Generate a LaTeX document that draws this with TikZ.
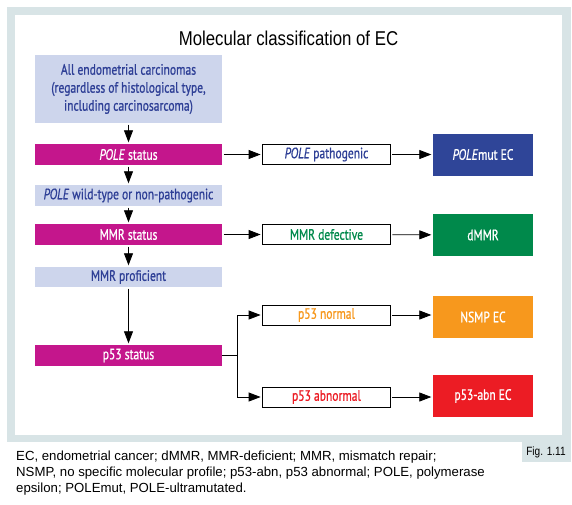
\documentclass[tikz,border=0pt]{standalone}
\usepackage{fontspec}
\setmainfont[FakeStretch=0.84]{Liberation Sans}
\newfontfamily\legendfont{Liberation Sans}
\newfontfamily\boxfont[FakeStretch=0.77, FakeBold=0.8]{PT Sans}
\usetikzlibrary{arrows.meta}

\definecolor{rahmen}{HTML}{D8E4E6}
\definecolor{lila}{HTML}{CDD5EC}
\definecolor{dunkelblau}{HTML}{2E3F96}
\definecolor{magentabox}{HTML}{C4168C}
\definecolor{blaubox}{HTML}{2F4598}
\definecolor{gruenbox}{HTML}{00894B}
\definecolor{orangebox}{HTML}{F7981D}
\definecolor{rotbox}{HTML}{EC1C24}

\tikzset{
	box/.style={inner sep=0pt, minimum height=21pt,
		font=\boxfont\fontsize{15}{18}\selectfont},
	links/.style={box, minimum width=187pt, fill=lila, text=dunkelblau},
	status/.style={box, minimum width=187pt, fill=magentabox, text=white},
	mitte/.style={box, draw=black, line width=0.8pt, minimum width=128pt,
		minimum height=20pt, fill=white},
	ende/.style={box, minimum width=100pt, minimum height=42pt, text=white},
	pfeil/.style={-{Triangle[length=12pt,width=9pt]}, line width=0.8pt,
		shorten <=1.5pt, shorten >=1.5pt}
}

\begin{document}
\begin{tikzpicture}[x=1pt, y=-1pt]
	% Hintergrund und Rahmen
	\fill[white] (0, 0) rectangle (572, 504);
	\useasboundingbox (0, 0) rectangle (572, 504);
	\fill[rahmen] (7, 7) rectangle (571, 442);
	\fill[white] (15, 15) rectangle (562, 435);
	\fill[rahmen] (522, 442) rectangle (571, 462);
	\node (fig) at (546, 452) {\fontsize{12}{14}\selectfont Fig. 1.11};
	% Titel
	\node (titel) at (288.5, 38) {\fontsize{20}{24}\selectfont Molecular classification of EC};
	% linke Spalte
	\node[links, minimum height=68pt, align=center] (alle) at (128.5, 89)
	{All endometrial carcinomas\\(regardless of histological type,\\including carcinosarcoma)};
	\node[status] (polestatus) at (128.5, 154.5) {\textit{POLE} status};
	\node[links] (polewt) at (128.5, 195.5) {\textit{POLE} wild-type or non-pathogenic};
	\node[status] (mmrstatus) at (128.5, 234.5) {MMR status};
	\node[links, minimum height=20pt] (mmrprof) at (128.5, 277) {MMR proficient};
	\node[status] (p53status) at (128.5, 355.5) {p53 status};
	% mittlere Spalte
	\node[mitte, text=dunkelblau] (polepath) at (326.5, 154.5) {\textit{POLE} pathogenic};
	\node[mitte, text=gruenbox] (mmrdef) at (326.5, 234.5) {MMR defective};
	\node[mitte, text=orangebox] (p53norm) at (326.5, 315) {p53 normal};
	\node[mitte, text=rotbox] (p53abn) at (326.5, 397) {p53 abnormal};
	% rechte Spalte
	\node[ende, fill=blaubox] (polemut) at (483, 154.5) {\textit{POLE}mut EC};
	\node[ende, fill=gruenbox] (dmmr) at (483, 235) {dMMR};
	\node[ende, fill=orangebox] (nsmp) at (483, 317) {NSMP EC};
	\node[ende, fill=rotbox] (p53abnec) at (483, 396) {p53-abn EC};
	% Pfeile
	\draw[pfeil] (alle) -- (polestatus);
	\draw[pfeil] (polestatus) -- (polewt);
	\draw[pfeil] (polewt) -- (mmrstatus);
	\draw[pfeil] (mmrstatus) -- (mmrprof);
	\draw[pfeil] (mmrprof) -- (p53status);
	\draw[pfeil] (polestatus) -- (polepath);
	\draw[pfeil] (polepath) -- (polemut);
	\draw[pfeil] (mmrstatus) -- (mmrdef);
	\draw[pfeil] (mmrdef) -- (dmmr);
	\coordinate (split) at (237, 355.5);
	\draw[line width=0.8pt] (p53status.east) -- (split);
	\draw[pfeil, shorten <=0pt] (split) |- (p53norm.west);
	\draw[pfeil, shorten <=0pt] (split) |- (p53abn.west);
	\draw[pfeil] (p53norm.east) -- (p53norm.east -| nsmp.west);
	\draw[pfeil] (p53abn.east) -- (p53abn.east -| p53abnec.west);
	% Legende
	\node[anchor=north west, align=left, inner sep=0pt,
		font=\legendfont\fontsize{13.2}{16}\selectfont] (legende) at (16, 450.5)
	{EC, endometrial cancer; dMMR, MMR-deficient; MMR, mismatch repair;\\
	NSMP, no specific molecular profile; p53-abn, p53 abnormal; POLE, polymerase\\
	epsilon; POLEmut, POLE-ultramutated.};
\end{tikzpicture}
\end{document}
